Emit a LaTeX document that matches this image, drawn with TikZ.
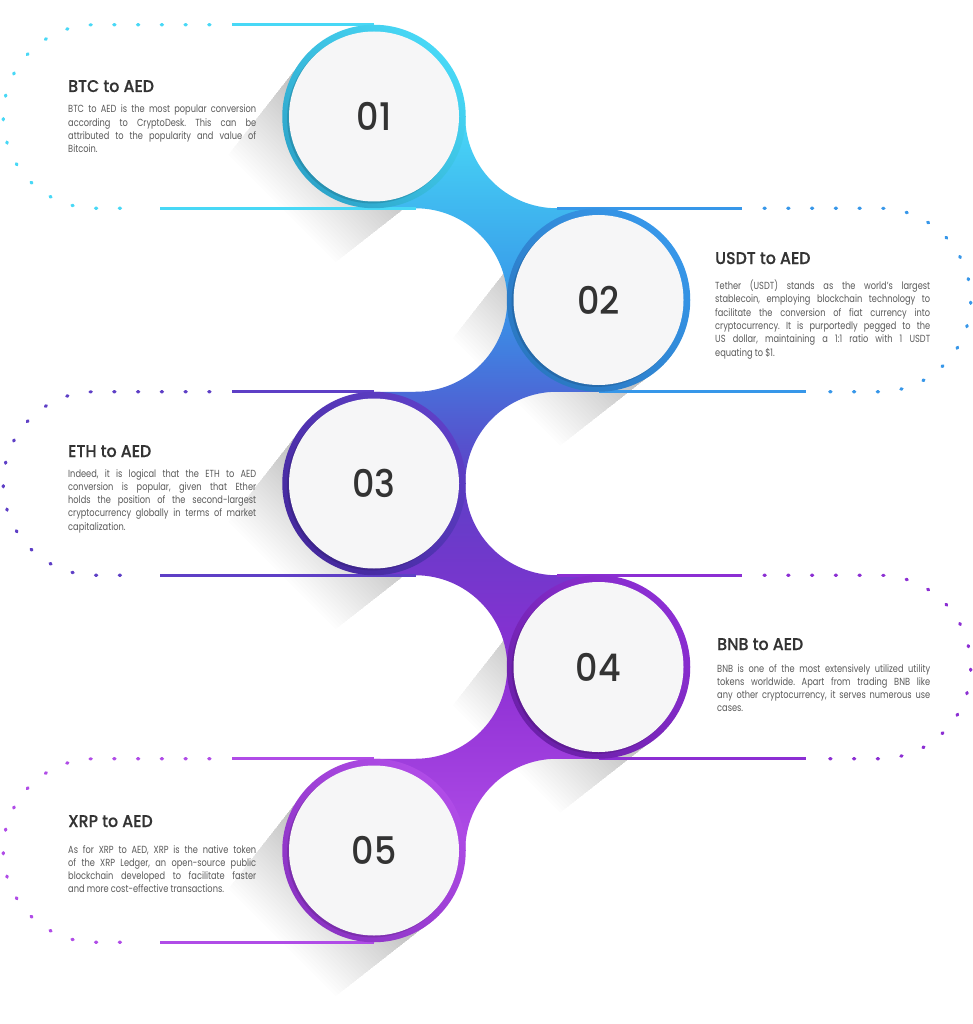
\documentclass[tikz,border=0pt]{standalone}
\usepackage{fontspec}
\IfFontExistsTF{Poppins Medium}
  {\newfontfamily\titlefont[FakeStretch=0.93,FakeBold=0.3]{Poppins Medium}
   \newfontfamily\numfont[FakeStretch=0.92]{Poppins Medium}}
  {\newfontfamily\titlefont[FakeStretch=0.93,FakeBold=1.2]{Poppins}
   \newfontfamily\numfont[FakeStretch=0.92,FakeBold=0.8]{Poppins}}
\newfontfamily\bodyfont[FakeStretch=0.8]{Poppins}
\usetikzlibrary{calc}
\definecolor{cA}{HTML}{48D8F6}
\definecolor{cAd}{HTML}{2DA5CA}
\definecolor{cB}{HTML}{3797E9}
\definecolor{cBd}{HTML}{2A78C2}
\definecolor{cC}{HTML}{5E3FC6}
\definecolor{cCd}{HTML}{45299E}
\definecolor{cD}{HTML}{8C2FD3}
\definecolor{cDd}{HTML}{6C20AA}
\definecolor{cE}{HTML}{B04CE7}
\definecolor{cEd}{HTML}{8B33C4}
\definecolor{txtdark}{HTML}{333333}
\definecolor{txtbody}{HTML}{5A5A5A}
\definecolor{diskc}{HTML}{F6F6F7}
\newcommand\jl[1]{\makebox[\linewidth][s]{#1}}
\tikzset{
  sl/.style={line width=3pt},
  dl/.style={line width=3.2pt, line cap=round, dash pattern=on 1.2pt off 22.55pt},
  ttl/.style={anchor=base west, inner sep=0pt, text=txtdark, font=\titlefont\fontsize{17}{20}\selectfont},
  body/.style={anchor=base west, inner sep=0pt, text=txtbody, font=\bodyfont\fontsize{10.3}{13.3}\selectfont\frenchspacing},
  num/.style={anchor=center, inner sep=0pt, text=txtdark, font=\numfont\fontsize{38}{38}\selectfont},
  shadowpiece/.style={fill=black, opacity=0.0085}
}
\begin{document}
\begin{tikzpicture}[x=1pt,y=-1pt]
\path[use as bounding box, fill=white] (0,0) rectangle (973,1024);
\coordinate (c1) at (374,116.5);
\coordinate (c2) at (598.5,300);
\coordinate (c3) at (374,483.5);
\coordinate (c4) at (598.5,667);
\coordinate (c5) at (374,850.5);
% long shadows (stacked, tapering, fading)
\foreach \c in {c1,c2,c3,c4,c5}{
  \foreach \k in {1,...,40}{
    \pgfmathsetmacro\t{2.3*\k}
    \pgfmathsetmacro\a{64.9-0.28*\k}
    \fill[shadowpiece] ($(\c)+(-64.9,-64.9)$) -- ($(\c)+(64.9,64.9)$)
      -- ($(\c)+(\a-\t,\a+\t)$) -- ($(\c)+(-\a-\t,-\a+\t)$) -- cycle;
  }
}
% connecting blobs
\shade[top color=cA, bottom color=cB] (374,116.5) -- (465.25,116.5) arc[start angle=180,end angle=90,radius=91.75]
  -- (598.5,208.25) -- (598.5,300) -- (507.25,300) arc[start angle=0,end angle=-90,radius=91.75] -- (374,208.25) -- cycle;
\shade[top color=cB, bottom color=cC] (598.5,300) -- (507.25,300) arc[start angle=0,end angle=90,radius=91.75]
  -- (374,391.75) -- (374,483.5) -- (465.25,483.5) arc[start angle=180,end angle=270,radius=91.75] -- (598.5,391.75) -- cycle;
\shade[top color=cC, bottom color=cD] (374,483.5) -- (465.25,483.5) arc[start angle=180,end angle=90,radius=91.75]
  -- (598.5,575.25) -- (598.5,667) -- (507.25,667) arc[start angle=0,end angle=-90,radius=91.75] -- (374,575.25) -- cycle;
\shade[top color=cD, bottom color=cE] (598.5,667) -- (507.25,667) arc[start angle=0,end angle=90,radius=91.75]
  -- (374,758.75) -- (374,850.5) -- (465.25,850.5) arc[start angle=180,end angle=270,radius=91.75] -- (598.5,758.75) -- cycle;
% solid lines
\draw[sl, cA] ($(c1)+(-142,-91.75)$) -- ($(c1)+(0,-91.75)$);
\draw[sl, cA] ($(c1)+(-214,91.75)$) -- ($(c1)+(41.5,91.75)$);
\draw[sl, cB] ($(c2)+(-41.5,-91.75)$) -- ($(c2)+(143.2,-91.75)$);
\draw[sl, cB] ($(c2)+(0,91.75)$) -- ($(c2)+(207.5,91.75)$);
\draw[sl, cC] ($(c3)+(-142,-91.75)$) -- ($(c3)+(0,-91.75)$);
\draw[sl, cC] ($(c3)+(-214,91.75)$) -- ($(c3)+(41.5,91.75)$);
\draw[sl, cD] ($(c4)+(-41.5,-91.75)$) -- ($(c4)+(143.2,-91.75)$);
\draw[sl, cD] ($(c4)+(0,91.75)$) -- ($(c4)+(207.5,91.75)$);
\draw[sl, cE] ($(c5)+(-142,-91.75)$) -- ($(c5)+(0,-91.75)$);
\draw[sl, cE] ($(c5)+(-214,91.75)$) -- ($(c5)+(0,91.75)$);
% dotted loops
\draw[dl, cA] ($(c1)+(-164,-91.75)$) -- ($(c1)+(-279,-91.75)$) arc[start angle=270,end angle=90,radius=91.75] -- ($(c1)+(-234,91.75)$);
\draw[dl, cB] ($(c2)+(165.5,-91.75)$) -- ($(c2)+(280.5,-91.75)$) arc[start angle=-90,end angle=90,radius=91.75] -- ($(c2)+(228.5,91.75)$);
\draw[dl, cC] ($(c3)+(-164,-91.75)$) -- ($(c3)+(-279,-91.75)$) arc[start angle=270,end angle=90,radius=91.75] -- ($(c3)+(-234,91.75)$);
\draw[dl, cD] ($(c4)+(165.5,-91.75)$) -- ($(c4)+(280.5,-91.75)$) arc[start angle=-90,end angle=90,radius=91.75] -- ($(c4)+(228.5,91.75)$);
\draw[dl, cE] ($(c5)+(-164,-91.75)$) -- ($(c5)+(-279,-91.75)$) arc[start angle=270,end angle=90,radius=91.75] -- ($(c5)+(-234,91.75)$);
% rings and discs
\foreach \c/\col in {c1/cA,c2/cB,c3/cC,c4/cD,c5/cE}{
  \shade[top color=\col, middle color=\col, bottom color=\col d, shading angle=-45] (\c) circle[radius=91.75];
  \fill[black, opacity=0.13] ($(\c)+(-1.6,1.6)$) circle[radius=85.3];
  \fill[diskc] (\c) circle[radius=85];
}
\node[num] (n1) at (c1) {01};
\node[num] (n2) at (c2) {02};
\node[num] (n3) at (c3) {03};
\node[num] (n4) at (c4) {04};
\node[num] (n5) at (c5) {05};
% texts
\node[ttl] (t1) at (68,92) {BTC to AED};
\node[body] (b1) at (68,112.8) {\parbox[t]{188pt}{\jl{BTC to AED is the most popular conversion}\\\jl{according to CryptoDesk. This can be}\\\jl{attributed to the popularity and value of}\\Bitcoin.}};
\node[ttl] (t2) at (715,264) {USDT to AED};
\node[body] (b2) at (715,289.5) {\parbox[t]{215pt}{\jl{Tether (USDT) stands as the world’s largest}\\\jl{stablecoin, employing blockchain technology to}\\\jl{facilitate the conversion of fiat currency into}\\\jl{cryptocurrency. It is purportedly pegged to the}\\\jl{US dollar, maintaining a 1:1 ratio with 1 USDT}\\equating to \$1.}};
\node[ttl] (t3) at (68,457) {ETH to AED};
\node[body] (b3) at (68,477) {\parbox[t]{188pt}{\jl{Indeed, it is logical that the ETH to AED}\\\jl{conversion is popular, given that Ether}\\\jl{holds the position of the second-largest}\\\jl{cryptocurrency globally in terms of market}\\capitalization.}};
\node[ttl] (t4) at (717,650) {BNB to AED};
\node[body] (b4) at (717,672) {\parbox[t]{213pt}{\jl{BNB is one of the most extensively utilized utility}\\\jl{tokens worldwide. Apart from trading BNB like}\\\jl{any other cryptocurrency, it serves numerous use}\\cases.}};
\node[ttl] (t5) at (68,827) {XRP to AED};
\node[body] (b5) at (68,853) {\parbox[t]{188pt}{\jl{As for XRP to AED, XRP is the native token}\\\jl{of the XRP Ledger, an open-source public}\\\jl{blockchain developed to facilitate faster}\\and more cost-effective transactions.}};
\end{tikzpicture}
\end{document}
